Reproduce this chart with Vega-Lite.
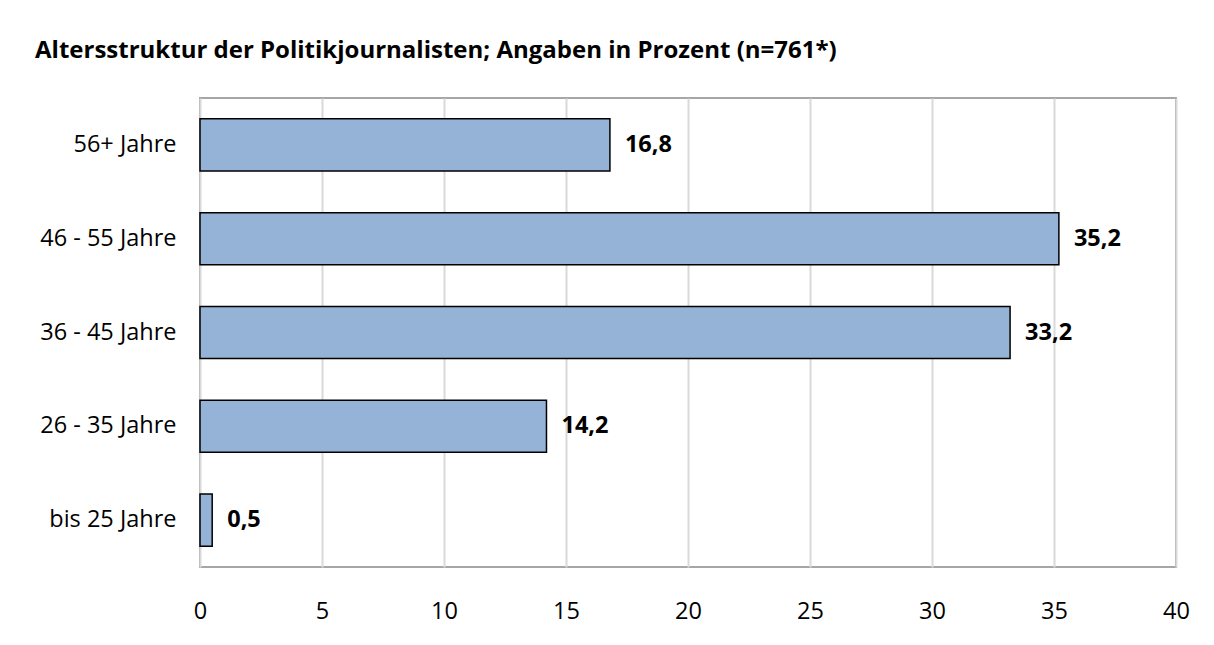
{
  "$schema": "https://vega.github.io/schema/vega-lite/v6.json",
  "autosize": "none",
  "width": 976,
  "height": 469,
  "padding": {"left": 200, "top": 98, "right": 38, "bottom": 78},
  "background": "white",
  "title": {
    "text": "Altersstruktur der Politikjournalisten; Angaben in Prozent (n=761*)",
    "anchor": "start",
    "frame": "group",
    "dx": -165,
    "offset": 35,
    "font": "Open Sans",
    "fontSize": 24,
    "fontWeight": "bold",
    "color": "black"
  },
  "config": {
    "locale": {"number": {"decimal": ",", "thousands": ".", "grouping": [3], "currency": ["", " €"]}},
    "view": {"stroke": "#a6a6a6", "strokeWidth": 2},
    "font": "Open Sans"
  },
  "data": {
    "values": [
      {"gruppe": "56+ Jahre", "wert": 16.8},
      {"gruppe": "46 - 55 Jahre", "wert": 35.2},
      {"gruppe": "36 - 45 Jahre", "wert": 33.2},
      {"gruppe": "26 - 35 Jahre", "wert": 14.2},
      {"gruppe": "bis 25 Jahre", "wert": 0.5}
    ]
  },
  "encoding": {
    "y": {
      "field": "gruppe",
      "type": "nominal",
      "sort": ["56+ Jahre", "46 - 55 Jahre", "36 - 45 Jahre", "26 - 35 Jahre", "bis 25 Jahre"],
      "scale": {"paddingInner": 0.445, "paddingOuter": 0.2225},
      "axis": {
        "title": null,
        "domain": false,
        "ticks": false,
        "labelPadding": 24,
        "labelFont": "Open Sans",
        "labelFontSize": 23.5,
        "labelColor": "black",
        "grid": false
      }
    },
    "x": {
      "field": "wert",
      "type": "quantitative",
      "scale": {"domain": [0, 40], "nice": false},
      "axis": {
        "title": null,
        "values": [0, 5, 10, 15, 20, 25, 30, 35, 40],
        "format": "d",
        "domain": false,
        "ticks": false,
        "labelFlush": false,
        "labelPadding": 32,
        "labelFont": "Open Sans",
        "labelFontSize": 23.5,
        "labelColor": "black",
        "grid": true,
        "gridColor": "#d9d9d9",
        "gridWidth": 2
      }
    }
  },
  "layer": [
    {
      "mark": {"type": "bar", "fill": "#95b3d7", "stroke": "black", "strokeWidth": 1.5}
    },
    {
      "mark": {"type": "text", "align": "left", "baseline": "middle", "dx": 15, "font": "Open Sans", "fontSize": 23.5, "fontWeight": "bold", "color": "black"},
      "encoding": {
        "text": {"field": "wert", "type": "quantitative", "format": ".1f"}
      }
    }
  ]
}
